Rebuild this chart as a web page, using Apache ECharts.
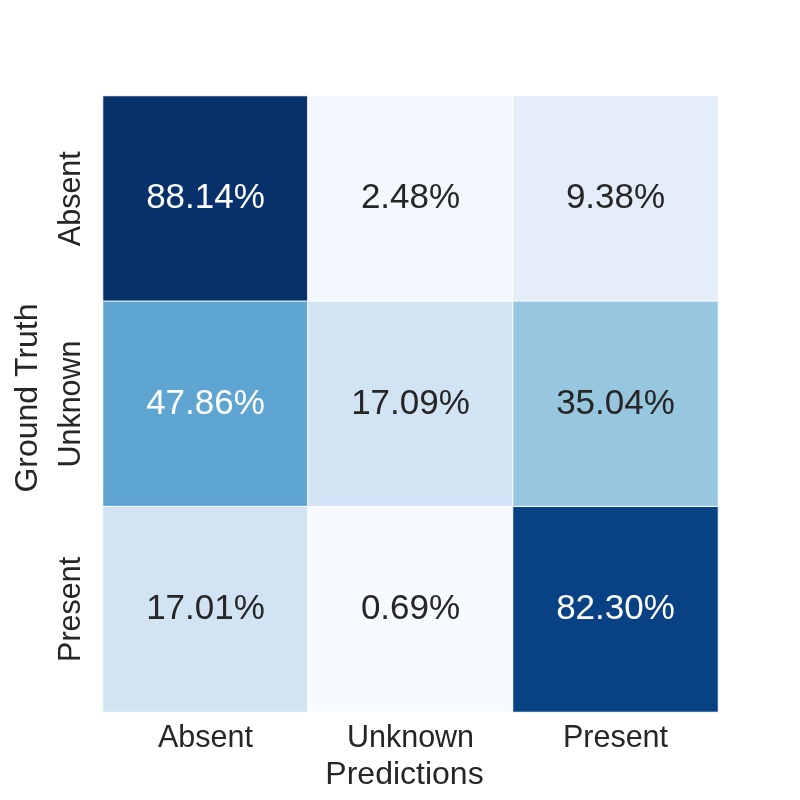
<!DOCTYPE html>
<html><head><meta charset="utf-8">
<script src="https://cdn.jsdelivr.net/npm/echarts@6/dist/echarts.min.js"></script>
<style>html,body{margin:0;padding:0;background:#fff}#c{width:800px;height:800px}</style>
</head><body><div id="c"></div>
<script>
var predCategories = ['Absent', 'Unknown', 'Present'];
var truthCategories = ['Absent', 'Unknown', 'Present'];
// rows = ground truth, columns = predictions (percent)
var rowAbsent = [88.14, 2.48, 9.38];
var rowUnknown = [47.86, 17.09, 35.04];
var rowPresent = [17.01, 0.69, 82.30];
var rows = [rowAbsent, rowUnknown, rowPresent];
var blues = ['#f7fbff','#deebf7','#c6dbef','#9ecae1','#6baed6','#4292c6','#2171b5','#08519c','#08306b'];
var all = rowAbsent.concat(rowUnknown, rowPresent);
var vmin = Math.min.apply(null, all), vmax = Math.max.apply(null, all);
var FONT = '"Liberation Sans", Arial, Helvetica, sans-serif';
var data = [];
rows.forEach(function (r, yi) {
  r.forEach(function (v, xi) {
    data.push({ value: [xi, yi, v], label: { color: v > 40 ? '#ffffff' : '#262626' } });
  });
});
var chart = echarts.init(document.getElementById('c'));
chart.setOption({
  backgroundColor: '#ffffff',
  animation: false,
  grid: { left: 103, top: 96, width: 615, height: 616 },
  xAxis: {
    type: 'category', data: predCategories,
    name: 'Predictions', nameLocation: 'middle', nameGap: 47,
    nameTextStyle: { fontSize: 32, color: '#262626', fontFamily: FONT, padding: [0, 12, 0, 0] },
    axisLine: { show: false }, axisTick: { show: false }, splitLine: { show: false },
    axisLabel: { fontSize: 30.5, color: '#262626', fontFamily: FONT, margin: 11 }
  },
  yAxis: {
    type: 'category', data: truthCategories, inverse: true,
    name: 'Ground Truth', nameLocation: 'middle', nameGap: 59, nameRotate: 90,
    nameTextStyle: { fontSize: 32, color: '#262626', fontFamily: FONT, padding: [0, 0, 0, 12] },
    axisLine: { show: false }, axisTick: { show: false }, splitLine: { show: false },
    axisLabel: { fontSize: 30.5, color: '#262626', fontFamily: FONT, rotate: 90, margin: 31, verticalAlign: 'middle', align: 'center' }
  },
  visualMap: { show: false, min: vmin, max: vmax, dimension: 2, inRange: { color: blues } },
  series: [{
    type: 'heatmap', data: data,
    itemStyle: { borderColor: '#ffffff', borderWidth: 1 },
    label: {
      show: true, fontSize: 35, fontFamily: FONT,
      formatter: function (p) { return p.value[2].toFixed(2) + '%'; }
    }
  }]
});
</script></body></html>
